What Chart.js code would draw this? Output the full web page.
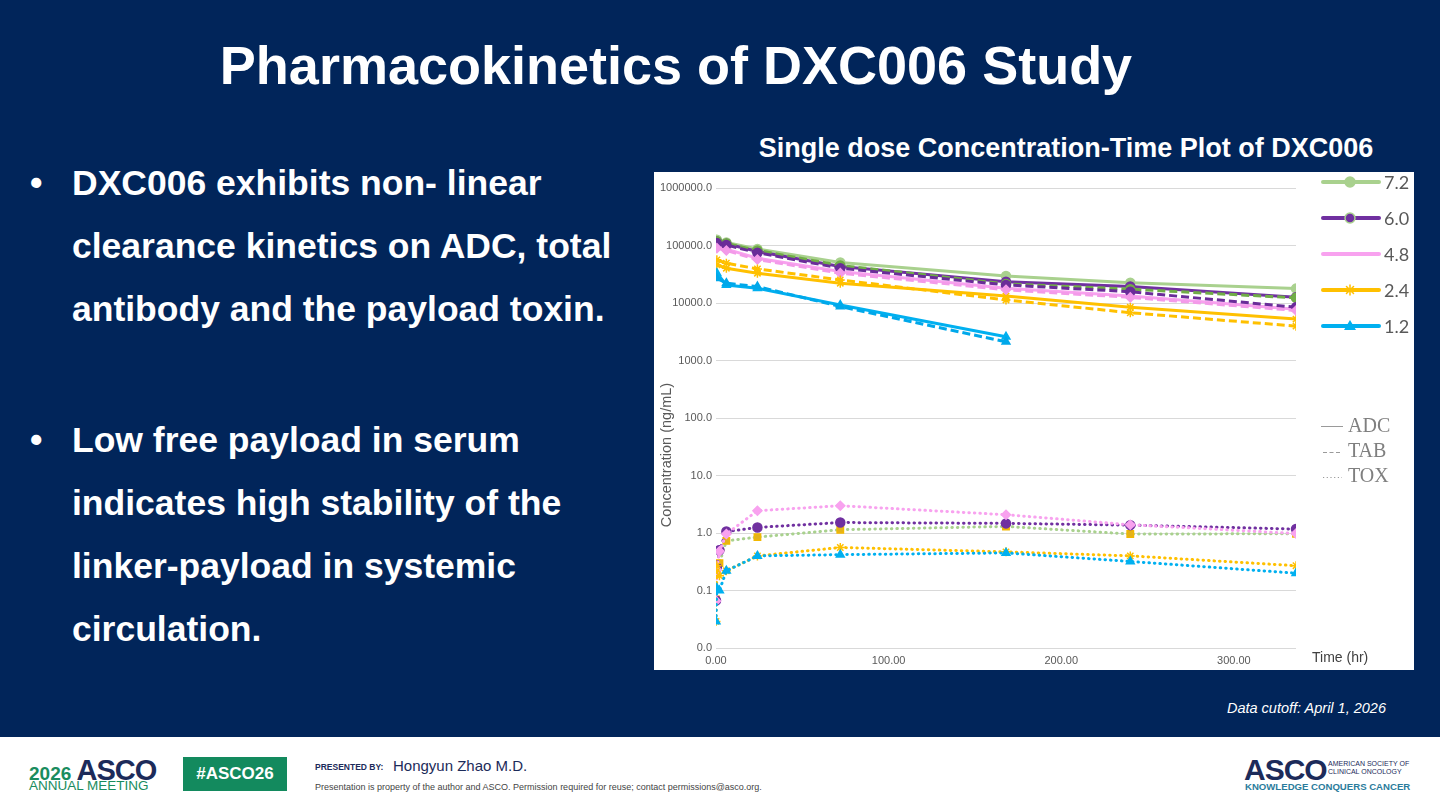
<!DOCTYPE html>
<html>
<head>
<meta charset="utf-8">
<script src="https://cdn.jsdelivr.net/npm/chart.js@4.4.1/dist/chart.umd.min.js"></script>
<style>
  html, body { margin: 0; padding: 0; }
  body {
    width: 1440px; height: 810px; position: relative; overflow: hidden;
    background: #01255a; font-family: "Liberation Sans", Arial, sans-serif; color: #fff;
  }
  .title { position: absolute; left: 0; width: 1352px; top: 35px; line-height: 60px;
           text-align: center; font-size: 54px; font-weight: bold; }
  .bullets { position: absolute; left: 72px; font-size: 35.5px; font-weight: bold; line-height: 63px; white-space: nowrap; }
  .bullets::before { content: "\2022"; position: absolute; left: -42px; top: 0; }
  .chart-title { position: absolute; left: 666px; width: 800px; top: 133px; line-height: 30px;
                 text-align: center; font-size: 27px; font-weight: bold; white-space: nowrap; }
  .chart-box { position: absolute; left: 654px; top: 172px; width: 760px; height: 498px; background: #fff; }
  .cutoff { position: absolute; right: 54px; top: 698px; font-size: 14.5px; font-style: italic; line-height: 20px; }
  .footer { position: absolute; left: 0; top: 737px; width: 1440px; height: 73px; background: #fff; }
  .footer div { position: absolute; white-space: nowrap; }
</style>
</head>
<body>
<div class="title">Pharmacokinetics of DXC006 Study</div>

<div class="bullets" style="top:152px">DXC006 exhibits non- linear<br>clearance kinetics on ADC, total<br>antibody and the payload toxin.</div>
<div class="bullets" style="top:409px">Low free payload in serum<br>indicates high stability of the<br>linker-payload in systemic<br>circulation.</div>

<div class="chart-title">Single dose Concentration-Time Plot of DXC006</div>
<div class="chart-box"><canvas id="pk" width="760" height="498"></canvas></div>
<div class="cutoff">Data cutoff: April 1, 2026</div>

<div class="footer">
  <div style="left:29px;top:21px;font-size:19px;font-weight:bold;color:#1a8c5e;line-height:24px">2026 <span style="font-size:29px;color:#1c2b5a;letter-spacing:-1px">ASCO</span></div>
  <div style="left:29px;top:41px;font-size:13.5px;color:#1a8c5e;line-height:16px">ANNUAL MEETING</div>
  <div style="left:183px;top:20px;width:104px;height:34px;background:#138a5e;color:#fff;font-weight:bold;font-size:17px;line-height:34px;text-align:center">#ASCO26</div>
  <div style="left:315px;top:25px;font-size:8.5px;font-weight:bold;color:#1c2b5a;line-height:10px">PRESENTED BY:</div>
  <div style="left:393px;top:20px;font-size:15px;color:#1c2b5a;line-height:18px">Hongyun Zhao M.D.</div>
  <div style="left:315px;top:45px;font-size:9px;color:#444;line-height:10px">Presentation is property of the author and ASCO. Permission required for reuse; contact permissions@asco.org.</div>
  <div style="left:1244px;top:16px;font-size:30px;font-weight:bold;color:#1c2b5a;line-height:34px;letter-spacing:-1px">ASCO</div>
  <div style="left:1328px;top:23px;font-size:7px;color:#1c2b5a;line-height:8px">AMERICAN SOCIETY OF<br>CLINICAL ONCOLOGY</div>
  <div style="left:1245px;top:44px;font-size:9.6px;font-weight:bold;color:#2b7c9c;line-height:12px">KNOWLEDGE CONQUERS CANCER</div>
</div>

<script>
// dose groups (mg/kg), as in the legend
const DOSES = ['7.2', '6.0', '4.8', '2.4', '1.2'];

// sampling times (hr)
const ADC_TIMES = [0.5, 6, 24, 72, 168, 240, 336];
const TOX_TIMES = [0, 0.5, 2, 6, 24, 72, 168, 240, 336];

// ADC concentration (ng/mL)
const adc72 = [126000, 113000, 87000, 50500, 29600, 22600, 17800];
const adc60 = [117000, 107000, 78600, 43000, 23500, 19300, 12600];
const adc48 = [95800, 86500, 60000, 35200, 18000, 13200, 7770];
const adc24 = [46000, 40300, 33000, 22100, 13200, 8420, 5250];
const adc12 = [33000, 20600, 18000, 9220, 2580];

// total antibody (ng/mL)
const tab72 = [118000, 108000, 82000, 45000, 21500, 17400, 12300];
const tab60 = [110000, 102000, 75000, 40300, 20600, 15700, 8420];
const tab48 = [90000, 82000, 57000, 33000, 17000, 12500, 7400];
const tab24 = [56300, 49300, 39200, 25200, 11300, 6770, 3960];
const tab12 = [26900, 22100, 19300, 8700, 2110];

// free payload toxin (ng/mL)
const tox72 = [0.07, 0.20, 0.30, 0.73, 0.85, 1.14, 1.30, 0.96, 0.97];
const tox60 = [0.067, 0.25, 0.50, 1.06, 1.25, 1.52, 1.47, 1.37, 1.17];
const tox48 = [0.066, 0.23, 0.48, 0.96, 2.44, 2.98, 2.08, 1.39, 0.98];
const tox24 = [0.029, 0.27, 0.18, 0.22, 0.40, 0.56, 0.47, 0.40, 0.27];
const tox12 = [0.029, 0.11, 0.10, 0.22, 0.40, 0.42, 0.45, 0.32, 0.20];

// axis ticks
const X_TICKS = [0, 100, 200, 300];
const Y_TICKS = [0.01, 0.1, 1, 10, 100, 1000, 10000, 100000, 1000000];

const ADC = [adc72, adc60, adc48, adc24, adc12];
const TAB = [tab72, tab60, tab48, tab24, tab12];
const TOX = [tox72, tox60, tox48, tox24, tox12];

const COLORS     = ['#a9d18e', '#7030a0', '#f8a2ef', '#ffc000', '#00b0f0'];
const TAB_COLORS = ['#70ad47', '#6a2c99', '#f39ae9', '#ffc000', '#00a8ea'];
const MARKERS    = ['circle', 'circle', 'rectRot', 'star', 'triangle'];

const toPoints = (times, vals) => vals.map((v, i) => ({ x: times[i], y: v }));

/* ── datasets ───────────────────────────────────────── */
const datasets = [];
DOSES.forEach((d, i) => {
  datasets.push({
    label: d + ' ADC',
    data: toPoints(ADC_TIMES, ADC[i]),
    borderColor: COLORS[i], backgroundColor: COLORS[i],
    borderWidth: 3, pointStyle: MARKERS[i], pointRadius: 4.5,
    pointBorderWidth: 1.5, pointBorderColor: COLORS[i], pointBackgroundColor: COLORS[i],
    order: 10 - i,
  });
  datasets.push({
    label: d + ' TAB',
    data: toPoints(ADC_TIMES, TAB[i]),
    borderColor: TAB_COLORS[i], backgroundColor: TAB_COLORS[i],
    borderWidth: 3, borderDash: [8, 4], pointStyle: MARKERS[i], pointRadius: 4.5,
    pointBorderWidth: 1.5, pointBorderColor: TAB_COLORS[i], pointBackgroundColor: TAB_COLORS[i],
    order: 5 - i,
  });
  const goldMarker = i === 0;
  datasets.push({
    label: d + ' TOX',
    data: toPoints(TOX_TIMES, TOX[i]),
    borderColor: COLORS[i], backgroundColor: COLORS[i],
    borderWidth: 3, borderDash: [0.5, 5], borderCapStyle: 'round',
    pointStyle: goldMarker ? 'rect' : MARKERS[i], pointRadius: 4.5,
    pointBorderWidth: 1.5,
    pointBorderColor: goldMarker ? '#f2b800' : COLORS[i],
    pointBackgroundColor: goldMarker ? '#e3b21c' : COLORS[i],
    order: 20 - i,
  });
});

/* ── overlay: legends and axis titles ───────────────── */
function drawMarker(ctx, style, x, y, fill, stroke) {
  ctx.save();
  ctx.fillStyle = fill; ctx.strokeStyle = stroke; ctx.lineWidth = 1.5;
  ctx.beginPath();
  if (style === 'circle') {
    ctx.arc(x, y, 5, 0, Math.PI * 2); ctx.fill(); ctx.stroke();
  } else if (style === 'triangle') {
    ctx.moveTo(x, y - 6); ctx.lineTo(x + 6, y + 4); ctx.lineTo(x - 6, y + 4); ctx.closePath(); ctx.fill();
  } else if (style === 'star') {
    for (let k = 0; k < 4; k++) {
      const a = k * Math.PI / 4;
      ctx.moveTo(x - 5 * Math.cos(a), y - 5 * Math.sin(a));
      ctx.lineTo(x + 5 * Math.cos(a), y + 5 * Math.sin(a));
    }
    ctx.stroke();
  }
  ctx.restore();
}

const overlay = {
  id: 'overlay',
  afterDraw(chart) {
    const ctx = chart.ctx;
    ctx.save();
    // dose legend
    const legendMarkers = ['circle', 'circle', null, 'star', 'triangle'];
    const legendStroke  = ['#a9d18e', '#a9d18e', null, '#ffc000', '#00b0f0'];
    DOSES.forEach((d, i) => {
      const y = 10 + i * 36;
      ctx.strokeStyle = COLORS[i]; ctx.lineWidth = 4; ctx.lineCap = 'round';
      ctx.beginPath(); ctx.moveTo(669, y); ctx.lineTo(725, y); ctx.stroke();
      if (legendMarkers[i]) drawMarker(ctx, legendMarkers[i], 696, y, COLORS[i], legendStroke[i]);
      ctx.fillStyle = '#595959'; ctx.font = '18px Lato, "Open Sans", sans-serif';
      ctx.textAlign = 'left'; ctx.textBaseline = 'middle';
      ctx.fillText(d, 730, y + 1);
    });
    // analyte legend
    ctx.fillStyle = '#7f7f7f'; ctx.strokeStyle = '#9a9a9a';
    ctx.font = '20px "Liberation Serif", serif';
    ctx.textBaseline = 'middle'; ctx.textAlign = 'left';
    ctx.fillText('ADC', 694, 255);
    ctx.fillText('TAB', 694, 280);
    ctx.fillText('TOX', 694, 305);
    ctx.lineWidth = 1; ctx.lineCap = 'butt';
    ctx.beginPath(); ctx.moveTo(667, 254.5); ctx.lineTo(689, 254.5); ctx.stroke();
    ctx.setLineDash([4, 2.5]);
    ctx.beginPath(); ctx.moveTo(669, 280.5); ctx.lineTo(688, 280.5); ctx.stroke();
    ctx.setLineDash([1.2, 2.5]);
    ctx.beginPath(); ctx.moveTo(669, 305.5); ctx.lineTo(688, 305.5); ctx.stroke();
    ctx.setLineDash([]);
    // axis titles
    ctx.fillStyle = '#595959'; ctx.font = '14.5px "Liberation Sans", Arial, sans-serif';
    ctx.save();
    ctx.translate(13, 283); ctx.rotate(-Math.PI / 2);
    ctx.textAlign = 'center'; ctx.fillText('Concentration (ng/mL)', 0, 0);
    ctx.restore();
    ctx.fillStyle = '#404040'; ctx.textAlign = 'left'; ctx.font = '14px "Liberation Sans", Arial, sans-serif';
    ctx.fillText('Time (hr)', 658, 486);
    ctx.restore();
  },
};

new Chart(document.getElementById('pk'), {
  type: 'line',
  data: { datasets },
  options: {
    responsive: false,
    animation: false,
    devicePixelRatio: 1,
    layout: { padding: { top: 16, right: 118, left: 0, bottom: 0 } },
    plugins: { legend: { display: false }, tooltip: { enabled: false } },
    scales: {
      x: {
        type: 'linear', min: 0, max: 336,
        grid: { display: false, drawTicks: false }, border: { display: false },
        afterBuildTicks: s => { s.ticks = X_TICKS.map(v => ({ value: v })); },
        afterFit: s => { s.height = 22; },
        ticks: { color: '#595959', font: { size: 11 }, padding: 6, maxRotation: 0,
                 callback: v => Number(v).toFixed(2) },
      },
      y: {
        type: 'logarithmic', min: 0.01, max: 1000000,
        grid: { color: '#d9d9d9', lineWidth: 1, drawTicks: false }, border: { display: false },
        afterBuildTicks: s => { s.ticks = Y_TICKS.map(v => ({ value: v })); },
        afterFit: s => { s.width = 62; },
        ticks: { color: '#595959', font: { size: 11 }, padding: 4, autoSkip: false,
                 callback: v => Number(v).toFixed(1) },
      },
    },
  },
  plugins: [overlay],
});
</script>
</body>
</html>
